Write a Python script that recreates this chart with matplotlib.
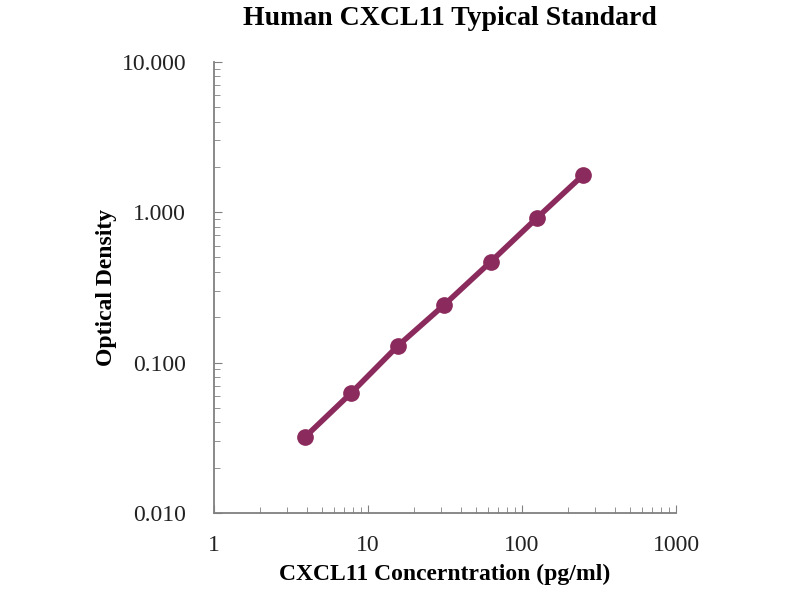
import matplotlib.pyplot as plt
from matplotlib.ticker import FixedLocator, LogLocator, NullFormatter

# standard curve data
concentration = [3.9, 7.8, 15.6, 31.25, 62.5, 125, 250]
optical_density = [0.032, 0.063, 0.129, 0.242, 0.467, 0.916, 1.77]

x_ticks = [1, 10, 100, 1000]
x_labels = ["1", "10", "100", "1000"]
y_ticks = [0.01, 0.1, 1, 10]
y_labels = ["0.010", "0.100", "1.000", "10.000"]

plt.rcParams['font.family'] = ['Liberation Serif', 'DejaVu Serif']

fig = plt.figure(figsize=(8, 6), dpi=100)
ax = fig.add_axes([0.2675, 0.145, 0.5775, 0.752])

line_color = '#8B2A5C'
ax.plot(concentration, optical_density, color=line_color, linewidth=4,
        marker='o', markersize=11, markerfacecolor=line_color,
        markeredgecolor=line_color)

ax.set_xscale('log')
ax.set_yscale('log')
ax.set_xlim(1, 1000)
ax.set_ylim(0.01, 10)

ax.xaxis.set_major_locator(FixedLocator(x_ticks))
ax.set_xticklabels(x_labels)
ax.yaxis.set_major_locator(FixedLocator(y_ticks))
ax.set_yticklabels(y_labels)
ax.xaxis.set_minor_locator(LogLocator(base=10, subs=range(2, 10)))
ax.yaxis.set_minor_locator(LogLocator(base=10, subs=range(2, 10)))
ax.xaxis.set_minor_formatter(NullFormatter())
ax.yaxis.set_minor_formatter(NullFormatter())

ax.spines['top'].set_visible(False)
ax.spines['right'].set_visible(False)
for s in ['left', 'bottom']:
    ax.spines[s].set_color('#808080')
    ax.spines[s].set_linewidth(1.3)

ax.tick_params(which='major', direction='in', length=6, color='#808080',
               labelsize=17, labelcolor='#222222')
ax.tick_params(which='minor', direction='in', length=4, color='#808080')
ax.tick_params(axis='x', pad=16)
ax.tick_params(axis='y', pad=20)

ax.set_xlabel("CXCL11 Concerntration (pg/ml)", fontsize=17, fontweight='bold')
ax.xaxis.set_label_coords(0.5, -0.112)
ax.set_ylabel("Optical Density", fontsize=17, fontweight='bold')
ax.yaxis.set_label_coords(-0.209, 0.5)

fig.text(0.5625, 1 - 25 / 600, "Human CXCL11 Typical Standard", fontsize=20,
         fontweight='bold', ha='center', va='baseline')

fig.savefig("out.png", dpi=100)
